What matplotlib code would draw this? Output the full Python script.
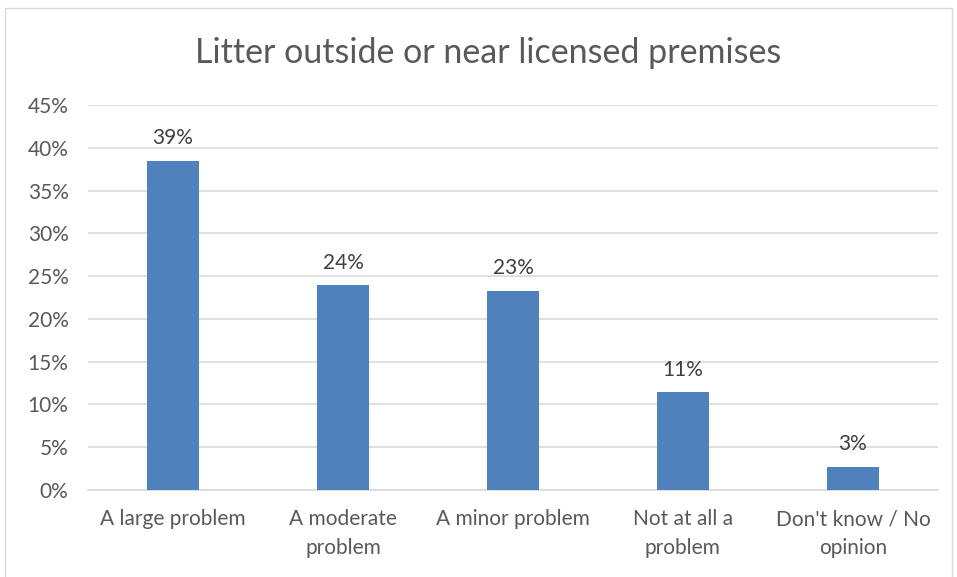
import matplotlib.pyplot as plt
from matplotlib.patches import Rectangle
from matplotlib.ticker import MultipleLocator, FuncFormatter

categories = ["A large problem", "A moderate\nproblem", "A minor problem",
              "Not at all a\nproblem", "Don't know / No\nopinion"]
values = [38.5, 23.9, 23.3, 11.4, 2.7]
labels = ["39%", "24%", "23%", "11%", "3%"]

plt.rcParams['font.family'] = ['Lato', 'DejaVu Sans']

fig = plt.figure(figsize=(9.57, 5.77), dpi=100, facecolor='white')
ax = fig.add_axes([0.092, 0.151, 0.888, 0.667])

x = range(len(categories))
bars = ax.bar(x, values, width=0.31, color='#4F81BD', zorder=3)
for b, lab in zip(bars, labels):
    ax.annotate(lab, (b.get_x() + b.get_width() / 2, b.get_height()),
                xytext=(0, 9), textcoords='offset points', ha='center', va='bottom',
                fontsize=15, color='#404040')

ax.set_xlim(-0.5, len(categories) - 0.5)
ax.set_ylim(0, 45)
ax.yaxis.set_major_locator(MultipleLocator(5))
ax.yaxis.set_major_formatter(FuncFormatter(lambda v, p: f"{v:.0f}%"))
ax.set_xticks(list(x))
ax.set_xticklabels(categories, fontsize=15, color='#595959', linespacing=1.55)
ax.tick_params(axis='y', labelsize=15, labelcolor='#595959', length=0, pad=14)
ax.tick_params(axis='x', length=0, pad=14)
ax.grid(axis='y', color='#D9D9D9', linewidth=1.2, zorder=0)
for s in ['top', 'right', 'left']:
    ax.spines[s].set_visible(False)
ax.spines['bottom'].set_color('#D9D9D9')
ax.spines['bottom'].set_linewidth(1.2)

fig.text(0.51, 0.908, "Litter outside or near licensed premises", ha='center', va='center',
         fontsize=24.5, color='#595959')

fig.patches.append(Rectangle((5 / 957, -0.05), 947 / 957, 1.036, transform=fig.transFigure,
                             fill=False, edgecolor='#D9D9D9', linewidth=1))

fig.savefig("out.png", dpi=100, facecolor='white')
